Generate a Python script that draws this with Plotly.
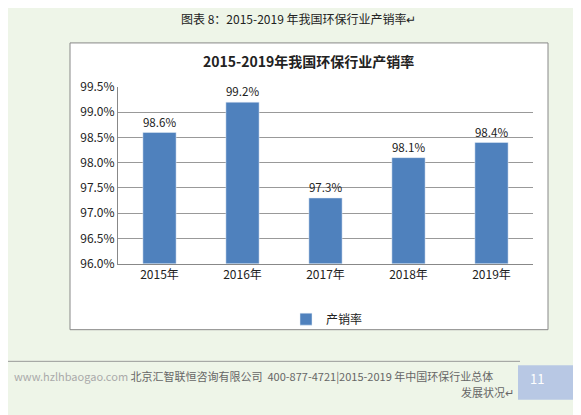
import plotly.graph_objects as go

years = ["2015年", "2016年", "2017年", "2018年", "2019年"]
rates = [98.6, 99.2, 97.3, 98.1, 98.4]
labels = ["98.6%", "99.2%", "97.3%", "98.1%", "98.4%"]

W, H = 581, 415
def px(x): return x / W
def py(y): return 1 - y / H

fig = go.Figure()
fig.add_trace(go.Bar(x=years, y=rates, name="产销率", marker_color="#4f81bd", width=0.4,
                     text=labels, textposition="outside", cliponaxis=False,
                     textfont=dict(size=12, color="#222")))
F = "Noto Sans CJK SC"
fig.update_layout(
    width=W, height=H, autosize=False, margin=dict(l=0, r=0, t=0, b=0),
    paper_bgcolor="#eef5e8", plot_bgcolor="white",
    font=dict(family=F, color="#222"),
    xaxis=dict(domain=[px(110), px(525)], showline=True, linecolor="#888",
               tickfont=dict(size=12, color="#222"), ticks=""),
    yaxis=dict(domain=[py(256), py(72)], range=[96, 99.5], dtick=0.5,
               tickformat=".1f", ticksuffix="%", showgrid=True, gridcolor="#999",
               showline=True, linecolor="#888", tickfont=dict(size=12, color="#222")),
    showlegend=True,
    legend=dict(x=px(278), y=py(314), xanchor="left", yanchor="middle",
                bgcolor="rgba(0,0,0,0)", font=dict(size=12)),
    shapes=[
        dict(type="rect", xref="paper", yref="paper", x0=px(62), x1=px(540), y0=py(325), y1=py(26),
             fillcolor="white", line=dict(color="#888", width=1), layer="below"),
        dict(type="line", xref="paper", yref="paper", x0=0, x1=px(512), y0=py(358), y1=py(358),
             line=dict(color="#999", width=1)),
        dict(type="rect", xref="paper", yref="paper", x0=px(510), x1=px(566), y0=py(398), y1=py(362),
             fillcolor="#b8c8e4", line=dict(width=0)),
    ],
    annotations=[
        dict(text="图表 8：2015-2019 年我国环保行业产销率↵", xref="paper", yref="paper",
             x=0.5, y=1, yanchor="top", yshift=10, showarrow=False, font=dict(size=12, color="#222")),
        dict(text="<b>2015-2019年我国环保行业产销率</b>", xref="paper", yref="paper",
             x=px(300), y=py(32), showarrow=False, font=dict(size=14, color="#222")),
        dict(text="<span style='color:#aaa'>www.hzlhbaogao.com</span> 北京汇智联恒咨询有限公司  400-877-4721|2015-2019 年中国环保行业总体",
             xref="paper", yref="paper", x=px(4), y=py(384), xanchor="left", showarrow=False,
             font=dict(size=11, color="#666")),
        dict(text="发展状况↵", xref="paper", yref="paper", x=px(508), y=py(400), xanchor="right",
             showarrow=False, font=dict(size=11, color="#666")),
        dict(text="11", xref="paper", yref="paper", x=px(538), y=py(388), showarrow=False,
             font=dict(size=13, color="white")),
    ],
)
fig.write_html("out.html")
